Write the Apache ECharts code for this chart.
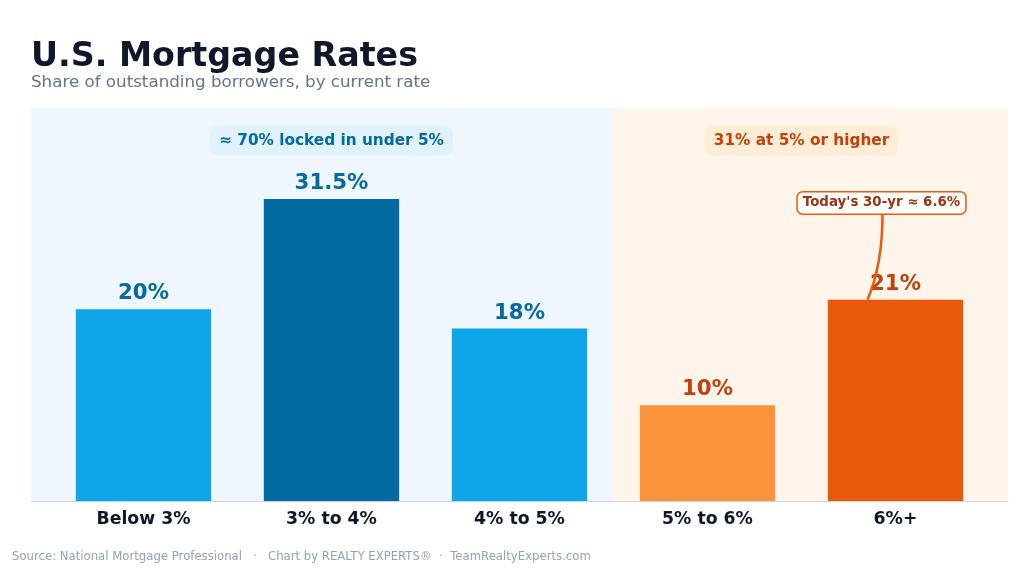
<!DOCTYPE html>
<html>
<head>
<meta charset="utf-8">
<script src="https://cdn.jsdelivr.net/npm/echarts@6/dist/echarts.min.js"></script>
<style>
    html, body {margin: 0; padding: 0; background: #fff;}
    #chart {width: 1024px; height: 570px;}
</style>
</head>
<body>
<div id="chart"></div>
<script type="text/javascript">
    // data
    let categories = ['Below 3%', '3% to 4%', '4% to 5%', '5% to 6%', '6%+'];
    let shares = [20, 31.5, 18, 10, 21];
    let barColors = ['#0EA5E9', '#0369A1', '#0EA5E9', '#FB923C', '#EA580C'];
    let labelColors = ['#0369A1', '#0369A1', '#0369A1', '#C2410C', '#C2410C'];
    let shareLabels = ['20%', '31.5%', '18%', '10%', '21%'];

    let font = '"DejaVu Sans"';
    let myChart = echarts.init(document.getElementById('chart'));

    let barData = shares.map(function (v, i) {
        return {
            value: v,
            itemStyle: {color: barColors[i]},
            label: {color: labelColors[i], formatter: shareLabels[i]}
        };
    });

    let option = {
        backgroundColor: '#ffffff',
        animation: false,
        textStyle: {fontFamily: font},
        title: [{
            text: 'U.S. Mortgage Rates',
            left: 31, top: 41, padding: 0,
            textStyle: {fontSize: 33.3, fontWeight: 'bold', color: '#0F172A', fontFamily: font}
        }, {
            text: 'Share of outstanding borrowers, by current rate',
            left: 31, top: 74, padding: 0,
            textStyle: {fontSize: 16.7, fontWeight: 'normal', color: '#64748B', fontFamily: font}
        }, {
            text: 'Source: National Mortgage Professional   ·   Chart by REALTY EXPERTS®  ·  TeamRealtyExperts.com',
            left: 12, top: 551, padding: 0,
            textStyle: {fontSize: 11.7, fontWeight: 'normal', color: '#94A3B8', fontFamily: font}
        }],
        grid: [
            {left: 31, right: 16, top: 108, bottom: 69},
            {left: 49.5, right: 34.5, top: 108, bottom: 69}
        ],
        xAxis: [{
            gridIndex: 0, type: 'value', min: -0.6, max: 4.6,
            axisLine: {show: true, onZero: false, lineStyle: {color: '#CBD5E1', width: 1}},
            axisTick: {show: false}, axisLabel: {show: false}, splitLine: {show: false}
        }, {
            gridIndex: 1, type: 'category', data: categories,
            axisLine: {show: false}, axisTick: {show: false},
            axisLabel: {fontSize: 17.3, fontWeight: 'bold', color: '#0F172A', margin: 10, fontFamily: font}
        }],
        yAxis: [
            {gridIndex: 0, type: 'value', min: 0, max: 41, show: false},
            {gridIndex: 1, type: 'value', min: 0, max: 41, show: false}
        ],
        series: [{
            type: 'line', xAxisIndex: 0, yAxisIndex: 0,
            data: [[0, 0]], symbol: 'none', lineStyle: {opacity: 0}, silent: true, z: 0,
            markArea: {
                silent: true,
                data: [
                    [{xAxis: -0.6, itemStyle: {color: '#EFF7FE'}}, {xAxis: 2.5}],
                    [{xAxis: 2.5, itemStyle: {color: '#FFF5EB'}}, {xAxis: 4.6}]
                ]
            }
        }, {
            type: 'bar', xAxisIndex: 1, yAxisIndex: 1,
            barWidth: '72%',
            data: barData,
            z: 3,
            label: {
                show: true, position: 'top', distance: 5,
                fontSize: 21.3, fontWeight: 'bold', fontFamily: font
            }
        }]
    };
    myChart.setOption(option);

    // annotations placed from the axes
    function px(cat, val) {
        return myChart.convertToPixel({xAxisIndex: 1, yAxisIndex: 1}, [cat, val]);
    }
    let pillLeft = px('3% to 4%', 37.6);
    let pillRight = px('5% to 6%', 37.6);
    let pillRight2 = px('6%+', 37.6);
    let barTop = px('6%+', 21);
    let calloutPos = px('6%+', 31.1);
    let calloutX = calloutPos[0] - 14;

    myChart.setOption({
        graphic: [{
            type: 'text', x: pillLeft[0], y: pillLeft[1], z: 10,
            style: {
                text: '≈ 70% locked in under 5%', font: 'bold 15.3px ' + font,
                fill: '#0369A1', align: 'center', verticalAlign: 'middle',
                backgroundColor: '#E0F2FE', padding: [8, 9, 7, 9], borderRadius: 8
            }
        }, {
            type: 'text', x: (pillRight[0] + pillRight2[0]) / 2, y: pillRight[1], z: 10,
            style: {
                text: '31% at 5% or higher', font: 'bold 15.3px ' + font,
                fill: '#C2410C', align: 'center', verticalAlign: 'middle',
                backgroundColor: '#FFEDD5', padding: [8, 9, 7, 9], borderRadius: 8
            }
        }, {
            type: 'bezierCurve', z: 9,
            shape: {
                x1: calloutX + 1, y1: calloutPos[1] + 12,
                cpx1: calloutX + 1, cpy1: barTop[1] - 35,
                x2: barTop[0] - 28, y2: barTop[1]
            },
            style: {stroke: '#EA580C', lineWidth: 2.5, fill: null}
        }, {
            type: 'text', x: calloutX, y: calloutPos[1], z: 11,
            style: {
                text: "Today's 30-yr ≈ 6.6%", font: 'bold 13.4px ' + font,
                fill: '#9A3412', align: 'center', verticalAlign: 'middle',
                backgroundColor: '#ffffff', borderColor: '#EA580C', borderWidth: 1.5,
                padding: [4, 5, 4, 5], borderRadius: 5
            }
        }]
    });
</script>
</body>
</html>
